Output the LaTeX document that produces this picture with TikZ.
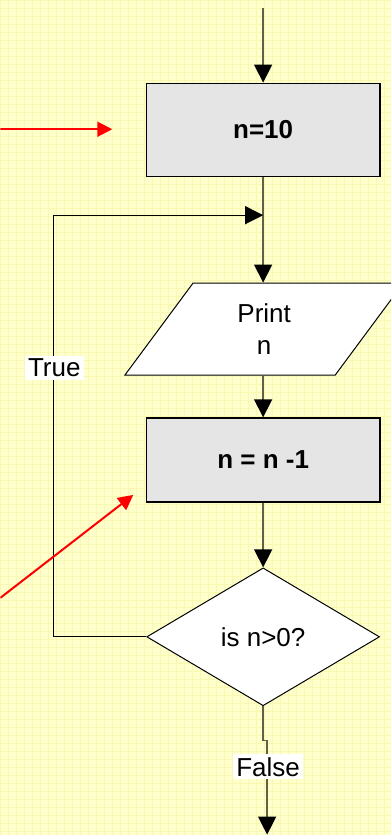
\documentclass[tikz,border=0pt]{standalone}
\usepackage{fontspec}
\setmainfont{Liberation Sans}
\usetikzlibrary{shapes.geometric, arrows.meta, positioning, calc}

\definecolor{paper}{RGB}{255,255,204}
\definecolor{paperline}{RGB}{248,248,178}
\definecolor{boxgray}{RGB}{229,229,229}
\definecolor{linkgray}{RGB}{96,96,70}

\tikzset{
  process/.style={draw=black, line width=1.3pt, fill=boxgray, minimum width=234pt,
    font=\fontsize{26}{30}\selectfont\bfseries},
  iobox/.style={draw=black, line width=1pt, fill=white, trapezium,
    trapezium left angle=63.4, trapezium right angle=116.6, trapezium stretches=true,
    minimum width=279pt, minimum height=92pt, align=center,
    font=\fontsize{26}{32}\selectfont},
  decision/.style={draw=black, line width=1pt, diamond, fill=white, minimum width=233pt,
    minimum height=138pt, inner sep=0pt, font=\fontsize{26}{30}\selectfont},
  flow/.style={draw=linkgray, line width=1.3pt, -{Triangle[width=18pt,length=18pt,color=black]}},
  loopline/.style={draw=black, line width=1.2pt, -{Triangle[width=18pt,length=18pt]}},
  hint/.style={draw=red, line width=2pt, -{Triangle[width=15pt,length=15pt]}},
  branch/.style={fill=white, inner sep=3pt, font=\fontsize{26}{30}\selectfont}
}

\begin{document}
\begin{tikzpicture}[x=1pt, y=-1pt]

% Paper background with grid
\fill[paper] (0,0) rectangle (391,835);
\foreach \gx in {0,8,...,391} {
    \draw[paperline, line width=0.7pt] (\gx,0) -- (\gx,835);
}
\foreach \gy in {0,8,...,835} {
    \draw[paperline, line width=0.7pt] (0,\gy) -- (391,\gy);
}
\useasboundingbox (0,0) rectangle (391,835);
\clip (0,0) rectangle (391,835);

% Flowchart nodes
\coordinate (top) at (263,8);
\node[process, minimum height=93pt] (init) at (263,129.5) {n=10};
\coordinate (merge) at (263,215);
\node[iobox] (print) at (264,329) {Print\\n};
\node[process, minimum height=84pt] (dec) at (263,460) {n = n -1};
\node[decision] (test) at (263,637) {is n>0?};
\coordinate (back) at (53,215);
\coordinate (jog) at (263,741);
\coordinate (exit) at (267,835);

% Connectors
\draw[flow] (top) -- (init);
\draw[linkgray, line width=1.3pt] (init) -- (merge);
\draw[flow] (merge) -- (merge |- print.north);
\draw[flow] (print.south -| dec.north) -- (dec);
\draw[flow] (dec) -- (test);
\draw[loopline] (test.west) -| (back) -- (merge);
\draw[flow] (test.south) -- (jog) -| (exit);

% Branch labels
\node[branch] (truelbl) at (54,368) {True};
\node[branch] (falselbl) at (268,767) {False};

% Red pointers
\coordinate (hintA) at (0,129);
\coordinate (hintAtip) at (112,129);
\coordinate (hintB) at (0,598);
\coordinate (hintBtip) at (133,495);
\draw[hint] (hintA) -- (hintAtip);
\draw[hint] (hintB) -- (hintBtip);

\end{tikzpicture}
\end{document}
